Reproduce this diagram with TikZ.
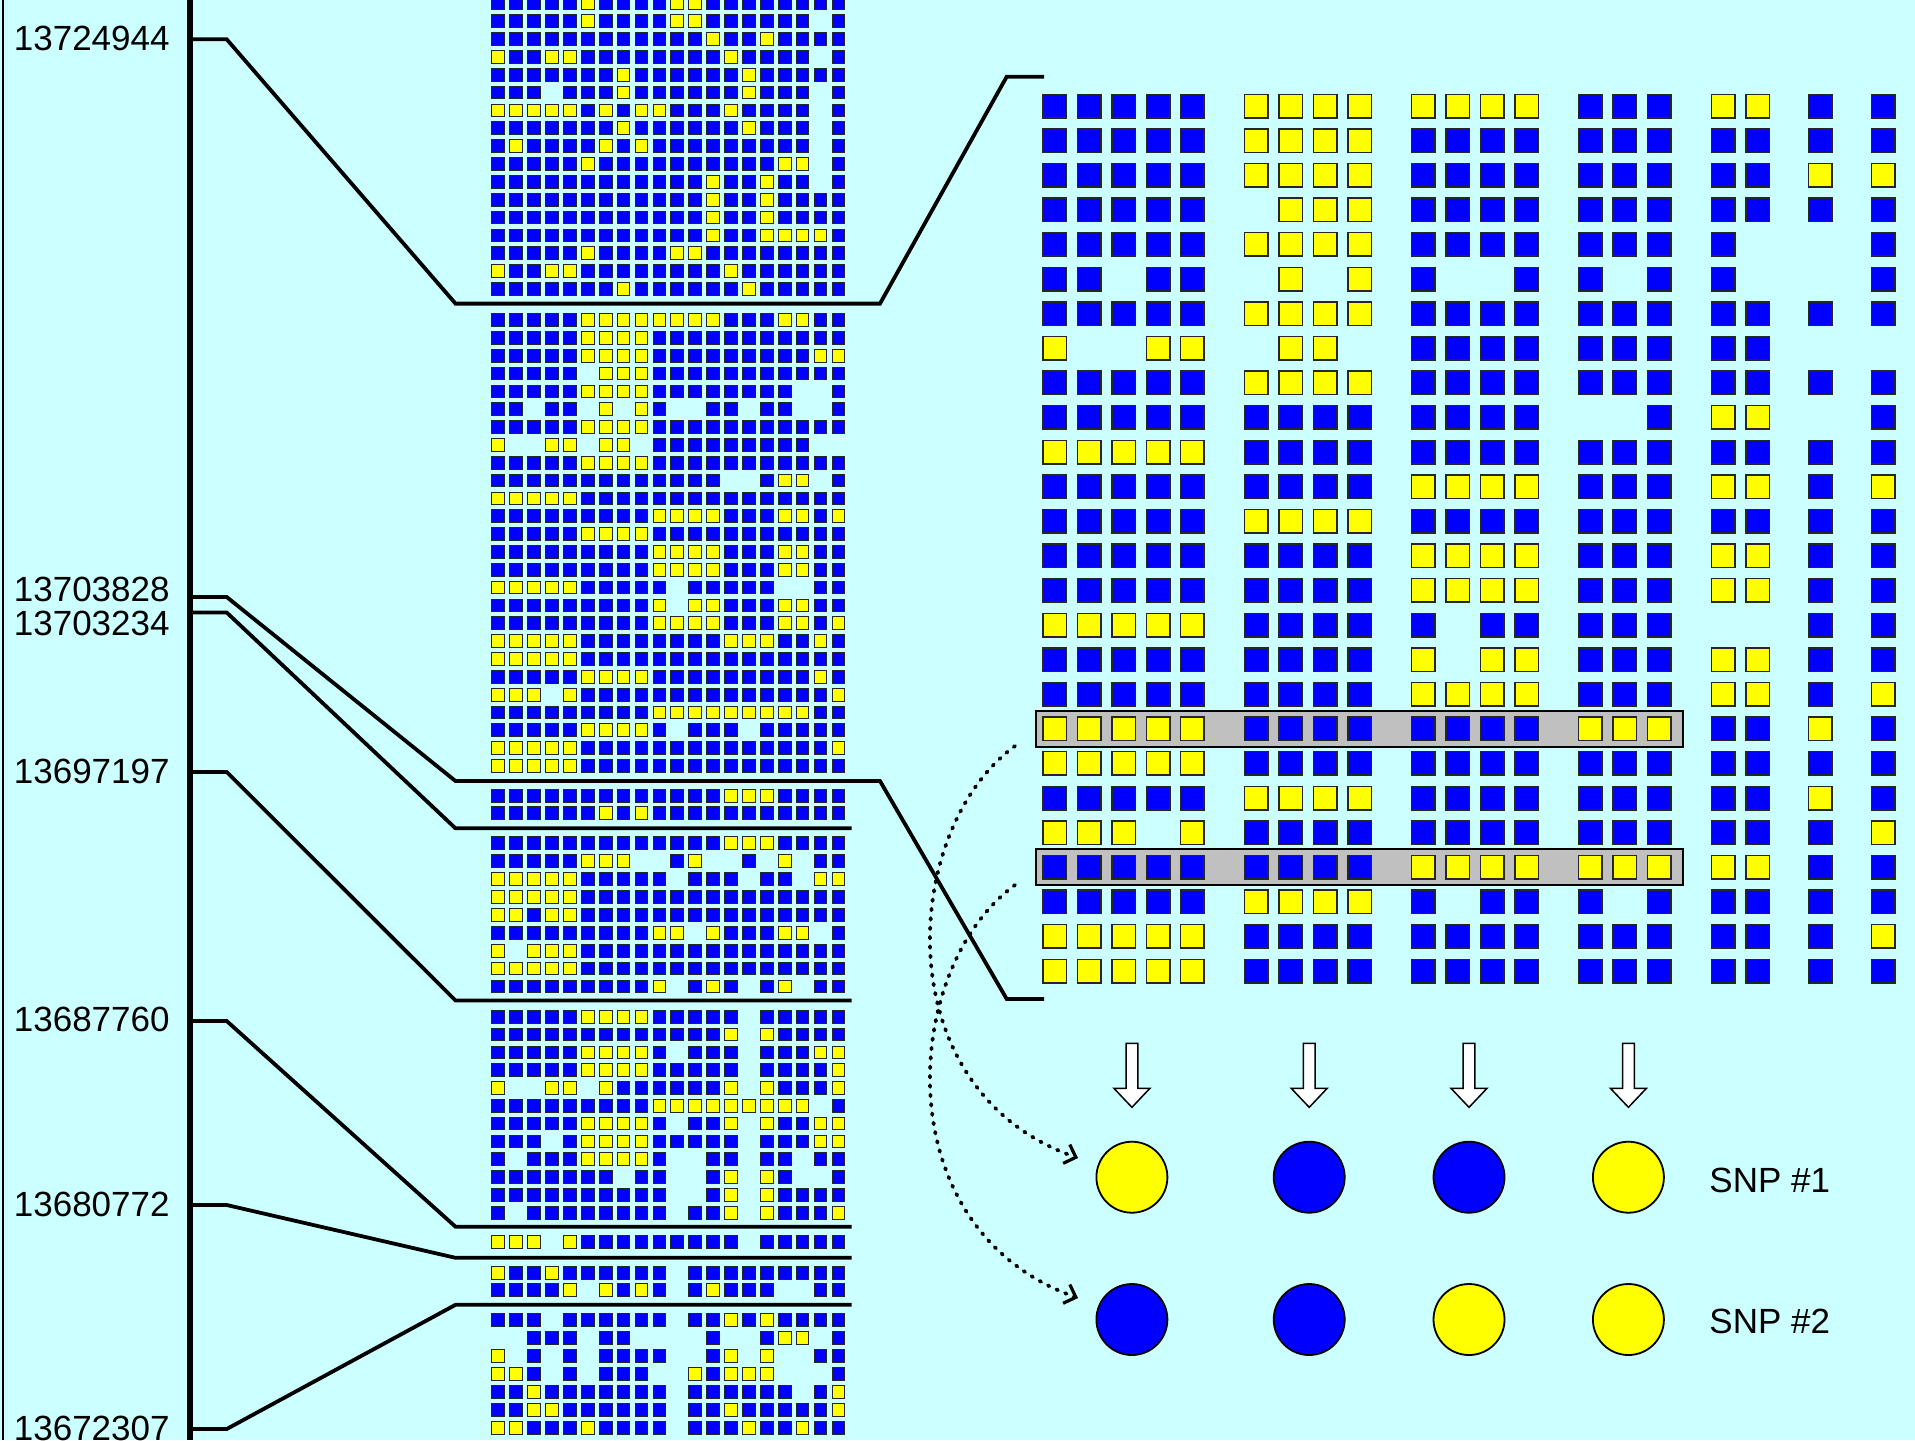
\documentclass[tikz,border=0pt]{standalone}
\usepackage{fontspec}
\setmainfont{Liberation Sans}
\usetikzlibrary{arrows.meta}
\definecolor{bgcyan}{RGB}{204,255,255}
\definecolor{sqblue}{RGB}{0,0,255}
\definecolor{sqyellow}{RGB}{255,255,0}
\definecolor{bargray}{RGB}{192,192,192}
\makeatletter
\newcount\gcol
\newcommand\gridrowL[2]{\pgfmathsetmacro\g@y{#1}\def\g@mode{0}\gcol=0 \edef\g@tmp{#2}\expandafter\g@loop\g@tmp\relax}
\newcommand\gridrowR[2]{\pgfmathsetmacro\g@y{#1}\def\g@mode{1}\gcol=0 \edef\g@tmp{#2}\expandafter\g@loop\g@tmp\relax}
\def\g@loop#1{\ifx#1\relax\else\advance\gcol by 1 \g@cell#1\expandafter\g@loop\fi}
\def\g@cell#1{%
  \if#1x\else
    \if#1B\def\g@f{sqblue}\else\def\g@f{sqyellow}\fi
    \ifnum\g@mode=0
      \pgfmathsetmacro\g@x{498.3+17.9*(\the\gcol-1)}%
      \draw[lcell,fill=\g@f] (\g@x-6.35,\g@y-6.35) rectangle (\g@x+6.35,\g@y+6.35);
    \else
      \edef\g@x{\ifcase\gcol\or 1054.9\or 1089.4\or 1123.8\or 1158.3\or 1192.2\or 1256.1\or 1290.6\or 1325.1\or 1359.6\or 1423.4\or 1457.9\or 1492.4\or 1526.9\or 1590.2\or 1624.7\or 1659.2\or 1723.1\or 1757.5\or 1820.3\or 1883.0\fi}%
      \draw[rcell,fill=\g@f] (\g@x-11.75,\g@y-11.75) rectangle (\g@x+11.75,\g@y+11.75);
    \fi
  \fi}
\makeatother
\begin{document}
\begin{tikzpicture}[x=0.5pt,y=-0.5pt,
  lcell/.style={draw=black!85,line width=0.5pt},
  rcell/.style={draw=black!85,line width=0.75pt},
  tickline/.style={line width=1.9pt},
  axisline/.style={line width=3.25pt},
  frameline/.style={line width=1pt},
  lbl/.style={inner sep=0pt,font=\fontsize{17.5pt}{20pt}\selectfont},
  snpY/.style={circle,draw,line width=0.9pt,fill=sqyellow,minimum size=35.5pt,inner sep=0pt},
  snpB/.style={snpY,fill=sqblue},
  openarrow/.style={draw,fill=white,line width=0.75pt},
  dotarrow/.style={line width=1.9pt,line cap=round,dash pattern=on 0.8pt off 3.9pt,-{Straight Barb[length=5pt,width=10pt,line width=1.6pt]}},
  selbar/.style={draw,fill=bargray,line width=0.9pt}
]
\fill[bgcyan] (0,0) rectangle (1915,1440);
\useasboundingbox (0,0) rectangle (1915,1440);
\draw[frameline] (2.5,0) -- (2.5,1440);
\draw[axisline] (190,0) -- (190,1440);

% tick coordinates
\coordinate (t1) at (190,39.3);
\coordinate (t2) at (190,597);
\coordinate (t3) at (190,612.5);
\coordinate (t4) at (190,772);
\coordinate (t5) at (190,1021);
\coordinate (t6) at (190,1205);
\coordinate (t7) at (190,1429);

\draw[tickline] (t1) -- ++(36.7,0) -- (455.5,303.6) -- (880,303.6) -- (1006.7,76.7) -- (1044,76.7);
\draw[tickline] (t2) -- ++(36.7,0) -- (455.5,781) -- (880,781) -- (1006.7,999) -- (1044,999);
\draw[tickline] (t3) -- ++(36.7,0) -- (455.5,828.3) -- (851.5,828.3);
\draw[tickline] (t4) -- ++(36.7,0) -- (455.5,1000.5) -- (851.5,1000.5);
\draw[tickline] (t5) -- ++(36.7,0) -- (455.5,1226.7) -- (851.5,1226.7);
\draw[tickline] (t6) -- ++(36.7,0) -- (455.5,1257.8) -- (851.5,1257.8);
\draw[tickline] (t7) -- ++(36.7,0) -- (455.5,1304.8) -- (851.5,1304.8);

\node[lbl,anchor=east] (l1) at (170,38.5) {13724944};
\node[lbl,anchor=east] (l2) at (170,589) {13703828};
\node[lbl,anchor=east] (l3) at (170,623.5) {13703234};
\node[lbl,anchor=east] (l4) at (170,771.5) {13697197};
\node[lbl,anchor=east] (l5) at (170,1019.5) {13687760};
\node[lbl,anchor=east] (l6) at (170,1204) {13680772};
\node[lbl,anchor=east] (l7) at (170,1428) {13672307};

% left grid: top block
\foreach \yy/\s in {3.3/BBBBBYBBBBYYBBBBBBBB, 21.15/BBBBBYBBBBYYBBBBBBxB, 39/BBBBBBBBBBBBYBBYBBBB,
 56.85/YBBYYBBBBBBBBYBBBBxB, 74.7/BBBBBBBYBBBBBBYBBBBB, 92.55/BBBxBBBYBBBBBBYBBBxB,
 110.4/YYYYYBYBYYBBBYBBBBxB, 128.25/BBBBBBBYBBBBBBYBBBxB, 146.1/BYBBBBYBYBBBBBBBBBxB,
 163.95/BBBBBYBBBBBBBBBBYYxB, 181.8/BBBBBBBBBBBBYBBYBBxB, 199.65/BBBBBBBBBBBBYBBYBBBB,
 217.5/BBBBBBBBBBBBYBBYBBBB, 235.35/BBBBBBBBBBBBYBBYYYYB, 253.2/BBBBBYBBBBYYBBBBBBBB,
 271.05/YBBYYBBBBBBBBYBBBBBB, 288.9/BBBBBBBYBBBBBBYBBBBB}
 {\gridrowL{\yy}{\s}}

% highlight bars (right)
\draw[selbar] (1035.7,710.8) rectangle (1683,746.8);
\draw[selbar] (1035.7,849.2) rectangle (1683,885.2);

% middle block (left) and its enlargement (right)
\foreach \s [count=\k] in {BBBBBYYYYYYYYBBBYYBB, BBBBBYYYYBBBBBBBBBBB, BBBBBYYYYBBBBBBBBBYY,
 BBBBBxYYYBBBBBBBBBBB, BBBBBYYYYBBBBBBBBxxB, BBxBBxYxYBxxBBxBBxxB, BBBBBYYYYBBBBBBBBBBB,
 YxxYYxYYxBBBBBBBBBxx, BBBBBYYYYBBBBBBBBBBB, BBBBBBBBBBBBBxxBYYxB, YYYYYBBBBBBBBBBBBBBB,
 BBBBBBBBBYYYYBBBYYBY, BBBBBYYYYBBBBBBBBBBB, BBBBBBBBBYYYYBBBYYBB, BBBBBBBBBYYYYBBBYYBB,
 YYYYYBBBBBxBBBBBxxBB, BBBBBBBBBYxYYBBBYYBB, BBBBBBBBBYYYYBBBYYBY, YYYYYBBBBBBBBYYYBBYB,
 YYYYYBBBBBBBBBBBBBBB, BBBBBYYYYBBBBBBBBBYB, YYYxYBBBBBBBBBBBBBBY, BBBBBBBBBYYYYYYYYYBB,
 BBBBBYYYYBxBBBxBBBBB, YYYYYBBBBBBBBBBBBBBY, YYYYYBBBBBBBBBBBBBBB}
 {\gridrowL{320+17.84*(\k-1)}{\s}\gridrowR{106+34.6*(\k-1)}{\s}}

% block 2
\foreach \yy/\s in {795.7/BBBBBBBBBBBBBYYYBBBB, 813.3/BBBBBBYBYBBBBBBBBBBB}
 {\gridrowL{\yy}{\s}}
% block 3
\foreach \yy/\s in {843.3/BBBBBBBBBBBBBYYYBBBB, 861.2/BBBBBYYYxxBYxxBxYxBB, 879.1/YYYYYBBBBBxBBBxBBxYY,
 897/YYYYYBBBBBBBBBBBBBBB, 914.9/YYBYYBBBBBBBBBBBBBBB, 932.8/BBBBBBBBBYYxYBBBYYxB,
 950.7/YxYYYBBBBBBBBBBBBBBB, 968.6/YYYYYBBBBBBBBBBBBBBB, 986.5/BBBBBBBBBYxBYBxBYxBB}
 {\gridrowL{\yy}{\s}}
% block 4
\foreach \s [count=\k] in {BBBBBYYYYBBBBBxBBBBB, BBBBBBBBBBBBBYxYBBBB, BBBBBYYYYBxBBBxBBBYY,
 BBBBBYYYYBBBBBxBBBBY, YxxYYxYBBBBBBYxYBBBY, BBBBBBBBBYYYYYYYYYxB, BBBBBYYYYBxBBYxYBBYY,
 BBBxBYYYYBBBBBxBBBYY, BxBBBYYYYBxxBBxBBxBB, BBBBBBBxBBxxBYxYBxxB, BBBBBBBBBBxxBYxYBBBB,
 BxBBBBBBBBxBBYxYBBBY}
 {\gridrowL{1016.7+17.82*(\k-1)}{\s}}
% block 5
\gridrowL{1242.3}{YYYxYBBBBBBBBBxBBBBB}
% block 6
\gridrowL{1272.7}{YBBYBBBBBBxBBBBBBBBB}
\gridrowL{1290.3}{BBBBYxYBYBxBYBBBxxBB}
% block 7
\foreach \s [count=\k] in {BBBxBBBBBBxBBYBYBBBB, xxBBBxBBxxxxBxxBYYxB, YxBxBxBBBBxxBYxYxxBB,
 YYBxBxBBBxxYBYYYxxxB, BBYBBBBBBBxBBBBBBxBY, BBYYBBBBBBxBBYBBBBBY, YYBBBYBBBBxBBBYBBYBB}
 {\gridrowL{1320+18*(\k-1)}{\s}}

% open arrows
\foreach \ax in {1131.9,1309.2,1469,1628.4}
 {\draw[openarrow] (\ax-5.85,1043.3) -- (\ax+5.85,1043.3) -- (\ax+5.85,1088.3) -- (\ax+18,1088.3)
   -- (\ax,1107.3) -- (\ax-18,1088.3) -- (\ax-5.85,1088.3) -- cycle;}

% SNP circles
\node[snpY] (s1a) at (1131.9,1177.2) {};
\node[snpB] (s1b) at (1309.2,1177.2) {};
\node[snpB] (s1c) at (1469,1177.2) {};
\node[snpY] (s1d) at (1628.4,1177.2) {};
\node[snpB] (s2a) at (1131.9,1319.5) {};
\node[snpB] (s2b) at (1309.2,1319.5) {};
\node[snpY] (s2c) at (1469,1319.5) {};
\node[snpY] (s2d) at (1628.4,1319.5) {};
\node[lbl,anchor=west] (snp1) at (1709,1180) {SNP \#1};
\node[lbl,anchor=west] (snp2) at (1709,1321) {SNP \#2};

% dotted curved arrows
\coordinate (d1s) at (1015,746);
\coordinate (d1e) at (1078,1158);
\coordinate (d2s) at (1015,885);
\coordinate (d2e) at (1078,1298);
\draw[dotarrow] (d1s) .. controls (900,830) and (885,1090) .. (d1e);
\draw[dotarrow] (d2s) .. controls (900,969) and (885,1229) .. (d2e);
\end{tikzpicture}
\end{document}
